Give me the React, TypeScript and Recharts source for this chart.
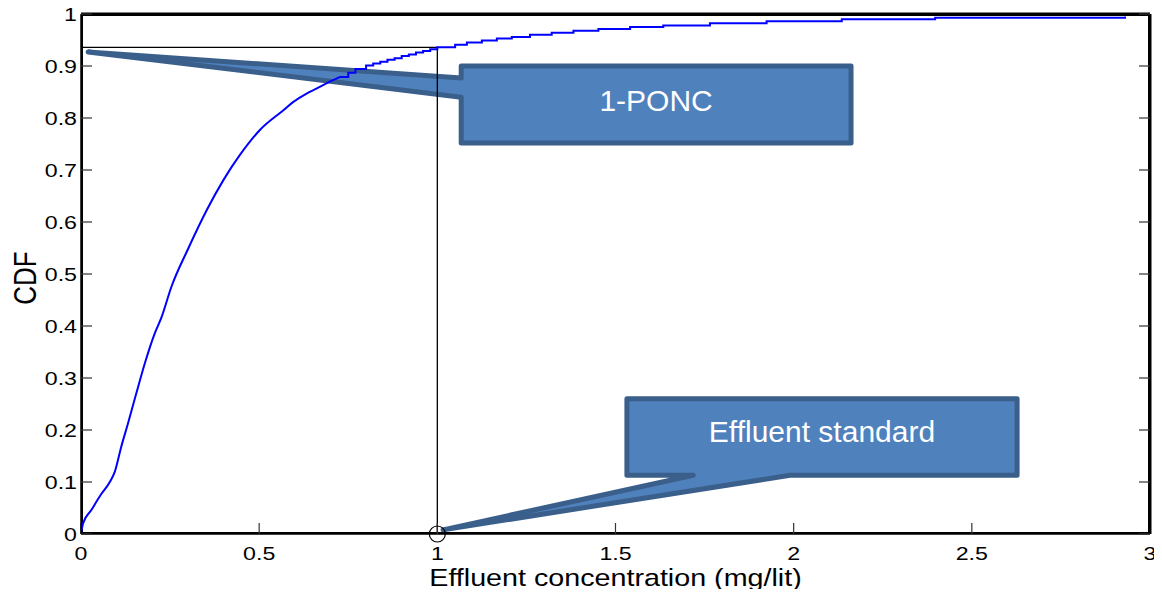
import React from 'react';
import { LineChart, Line, XAxis, YAxis, ReferenceArea, ReferenceDot, Label } from 'recharts';

// smooth lower part of the empirical CDF
const lowerConc = [0, 0.006, 0.029, 0.055, 0.08, 0.095, 0.113, 0.132, 0.155, 0.179, 0.207, 0.225, 0.254, 0.301, 0.353, 0.4, 0.446, 0.502, 0.568, 0.596, 0.633, 0.662, 0.69, 0.727];
const lowerCdf = [0.002, 0.021, 0.046, 0.075, 0.099, 0.12, 0.168, 0.213, 0.27, 0.328, 0.386, 0.415, 0.476, 0.549, 0.623, 0.681, 0.729, 0.777, 0.815, 0.831, 0.847, 0.857, 0.867, 0.879];

// stepped upper tail
const upperConc = [0.727, 0.75, 0.77, 0.8, 0.82, 0.84, 0.86, 0.88, 0.9, 0.92, 0.94, 0.96, 0.98, 1.0, 1.05, 1.083, 1.125, 1.167, 1.209, 1.26, 1.321, 1.382, 1.452, 1.541, 1.634, 1.765, 1.924, 2.135, 2.397, 2.93];
const upperCdf = [0.879, 0.887, 0.894, 0.901, 0.905, 0.908, 0.912, 0.915, 0.919, 0.922, 0.926, 0.929, 0.932, 0.936, 0.941, 0.945, 0.949, 0.953, 0.956, 0.96, 0.964, 0.968, 0.971, 0.975, 0.978, 0.982, 0.986, 0.99, 0.993, 0.995];

// effluent standard guide lines
const guideConc = [0, 1, 1];
const guideCdf = [0.936, 0.936, 0];
const standard = 1;

const xTicks = [0, 0.5, 1, 1.5, 2, 2.5, 3];
const yTicks = [0, 0.1, 0.2, 0.3, 0.4, 0.5, 0.6, 0.7, 0.8, 0.9, 1];

const lowerData = lowerConc.map((x, i) => ({ x, y: lowerCdf[i] }));
const upperData = upperConc.map((x, i) => ({ x, y: upperCdf[i] }));
const guideData = guideConc.map((x, i) => ({ x, y: guideCdf[i] }));

// callouts (data coordinates)
const ponc = { text: '1-PONC', x1: 1.067, x2: 2.161, y1: 0.752, y2: 0.9, tip: [0.02, 0.927], side: 'left', base: [0.877, 0.84], dy: -4 };
const effl = { text: 'Effluent standard', x1: 1.532, x2: 2.627, y1: 0.113, y2: 0.26, tip: [1.016, 0.008], side: 'bottom', base: [1.718, 1.99], dy: -6 };

const FONT = 'Liberation Sans, Arial, sans-serif';
const STRETCH = 1.22;

const Callout = (c: any) => (p: any) => {
  const { x, y, width, height } = p;
  const px = (v: number) => x + ((v - c.x1) / (c.x2 - c.x1)) * width;
  const py = (v: number) => y + ((c.y2 - v) / (c.y2 - c.y1)) * height;
  const L = x, R = x + width, T = y, B = y + height;
  const tx = px(c.tip[0]), ty = py(c.tip[1]);
  let d = '';
  if (c.side === 'left') {
    d = `M${L},${T} L${R},${T} L${R},${B} L${L},${B} L${L},${py(c.base[1])} L${tx},${ty} L${L},${py(c.base[0])} Z`;
  } else {
    d = `M${L},${T} L${R},${T} L${R},${B} L${px(c.base[1])},${B} L${tx},${ty} L${px(c.base[0])},${B} L${L},${B} Z`;
  }
  return (
    <g>
      <path d={d} fill="#4F81BD" stroke="#3A5F8B" strokeWidth={5} strokeLinejoin="round" />
      <text x={(L + R) / 2} y={(T + B) / 2 + 11 + c.dy} textAnchor="middle" fill="#fff" fontSize={30} fontFamily={FONT}>
        {c.text}
      </text>
    </g>
  );
};

// plot box, drawn just inside the plot area
const Frame = (p: any) => (
  <rect x={p.x + 1} y={p.y + 1} width={p.width - 2} height={p.height - 2} fill="none" stroke="#000" strokeWidth={2} />
);

const XTick = ({ x, y, payload }: any) => (
  <g transform={`translate(${x},${y + 26}) scale(${STRETCH},1)`}>
    <text textAnchor="middle" fontSize={19} fontFamily={FONT} fill="#000">{String(payload.value)}</text>
  </g>
);

const YTick = ({ x, y, payload }: any) => (
  <g transform={`translate(${x - 4},${y + 7}) scale(${STRETCH},1)`}>
    <text textAnchor="end" fontSize={19} fontFamily={FONT} fill="#000">{String(payload.value)}</text>
  </g>
);

const Empty = () => <g />;

const XTitle = ({ viewBox }: any) => (
  <g transform={`translate(${viewBox.x + viewBox.width / 2},${viewBox.y + 52}) scale(${STRETCH * 0.98},1)`}>
    <text textAnchor="middle" fontSize={24} fontFamily={FONT} fill="#000">Effluent concentration (mg/lit)</text>
  </g>
);

const YTitle = ({ viewBox }: any) => (
  <g transform={`translate(${viewBox.x + 25},${viewBox.y + viewBox.height / 2 + 4}) rotate(-90) scale(1,${STRETCH * 0.98})`}>
    <text y={9} textAnchor="middle" fontSize={26} fontFamily={FONT} fill="#000">CDF</text>
  </g>
);

const tickLine = { stroke: '#333', strokeWidth: 1.2 };

export default function App() {
  return (
    <div style={{ margin: -8 }}>
      <LineChart width={1162} height={597} margin={{ top: 13, right: 11, bottom: 0, left: 0 }}>
        <XAxis xAxisId="x" type="number" dataKey="x" domain={[0, 3]} ticks={xTicks} allowDataOverflow
          height={63} tickSize={-11} tickMargin={11} tick={<XTick />} stroke="#000" strokeWidth={1.5}
          tickLine={tickLine}>
          <Label content={<XTitle />} />
        </XAxis>
        <XAxis xAxisId="top" orientation="top" type="number" domain={[0, 3]} ticks={xTicks} allowDataOverflow
          height={1} tickSize={-11} tick={<Empty />} stroke="#000" strokeWidth={3} tickLine={tickLine} />
        <YAxis yAxisId="y" type="number" dataKey="y" domain={[0, 1]} ticks={yTicks} allowDataOverflow
          width={81} tickSize={-11} tickMargin={11} tick={<YTick />} stroke="#000" strokeWidth={1.5}
          tickLine={tickLine}>
          <Label content={<YTitle />} />
        </YAxis>
        <YAxis yAxisId="right" orientation="right" type="number" domain={[0, 1]} ticks={yTicks} allowDataOverflow
          width={1} tickSize={-11} tick={<Empty />} stroke="#000" strokeWidth={3} tickLine={tickLine} />
        <ReferenceArea xAxisId="x" yAxisId="y" x1={0} x2={3} y1={0} y2={1} ifOverflow="visible" shape={Frame} />
        <Line xAxisId="x" yAxisId="y" data={guideData} dataKey="y" type="linear" stroke="#000" strokeWidth={1.3}
          dot={false} activeDot={false} isAnimationActive={false} />
        <Line xAxisId="x" yAxisId="y" data={lowerData} dataKey="y" type="monotone" stroke="#0000FF" strokeWidth={2}
          dot={false} activeDot={false} isAnimationActive={false} />
        <Line xAxisId="x" yAxisId="y" data={upperData} dataKey="y" type="stepAfter" stroke="#0000FF" strokeWidth={2}
          dot={false} activeDot={false} isAnimationActive={false} />
        <ReferenceDot xAxisId="x" yAxisId="y" x={standard} y={0} r={8} fill="none" stroke="#000" strokeWidth={1.2} ifOverflow="visible" />
        <ReferenceArea xAxisId="x" yAxisId="y" x1={ponc.x1} x2={ponc.x2} y1={ponc.y1} y2={ponc.y2}
          ifOverflow="visible" shape={Callout(ponc)} />
        <ReferenceArea xAxisId="x" yAxisId="y" x1={effl.x1} x2={effl.x2} y1={effl.y1} y2={effl.y2}
          ifOverflow="visible" shape={Callout(effl)} />
      </LineChart>
    </div>
  );
}
